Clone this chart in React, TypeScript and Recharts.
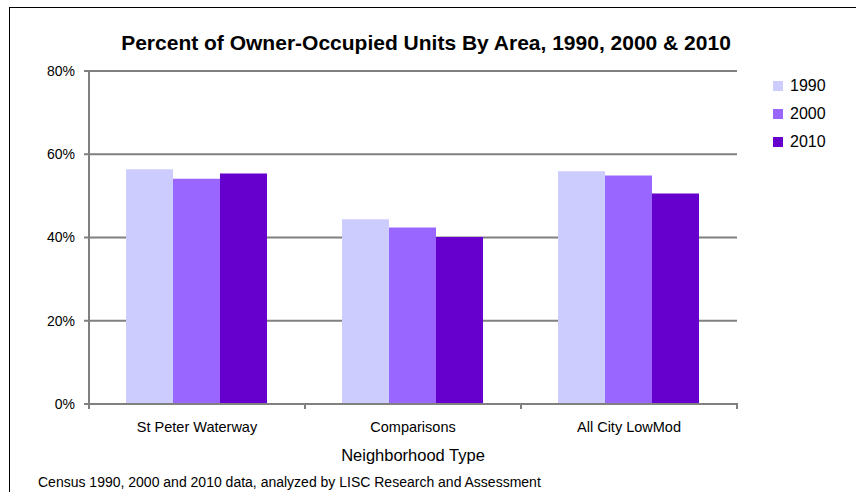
import React from "react";
import { Bar, BarChart, CartesianGrid, XAxis, YAxis } from "recharts";

const categories = ["St Peter Waterway", "Comparisons", "All City LowMod"];
const years = ["1990", "2000", "2010"];
const v1990 = [56.4, 44.4, 55.9];
const v2000 = [54.1, 42.4, 54.9];
const v2010 = [55.4, 40.1, 50.6];
const yTicks = [0, 20, 40, 60, 80];

const COLORS = ["#ccccff", "#9966ff", "#6600cc"];
const GRID = "#808080";
const FONT = "'Liberation Sans', Arial, sans-serif";

const data = categories.map((name, i) => ({
  name,
  "1990": v1990[i],
  "2000": v2000[i],
  "2010": v2010[i],
}));

function CategoryTick(props: any) {
  const { x, y, payload, index, visibleTicksCount } = props;
  const half = payload?.offset ?? 108;
  const y0 = y - 19;
  const last = index === visibleTicksCount - 1;
  return (
    <g>
      <line x1={x - half} x2={x - half} y1={y0} y2={y0 + 6} stroke={GRID} strokeWidth={2} />
      {last ? (
        <line x1={x + half} x2={x + half} y1={y0} y2={y0 + 6} stroke={GRID} strokeWidth={2} />
      ) : null}
      <text x={x} y={y} dy="0.71em" textAnchor="middle" fontSize={14.5} fill="#000" fontFamily={FONT}>
        {payload.value}
      </text>
    </g>
  );
}

export default function App() {
  return (
    <div style={{ position: "absolute", left: 0, top: 0, width: 856, height: 492, background: "#fff", fontFamily: FONT }}>
      <div style={{ position: "absolute", left: 9, top: 7, width: 847, height: 485, borderLeft: "1px solid #000", borderTop: "1px solid #000" }} />
      <div style={{ position: "absolute", left: 0, width: 852, top: 31, textAlign: "center", fontWeight: "bold", fontSize: 21, color: "#000" }}>
        Percent of Owner-Occupied Units By Area, 1990, 2000 &amp; 2010
      </div>
      <BarChart
        width={856}
        height={492}
        data={data}
        margin={{ top: 71, right: 119, left: 29, bottom: 28 }}
        barCategoryGap={37}
        barGap={0}
      >
        <CartesianGrid vertical={false} stroke={GRID} strokeWidth={2} />
        <XAxis
          dataKey="name"
          height={60}
          axisLine={{ stroke: GRID, strokeWidth: 2 }}
          tickLine={false}
          tickSize={6}
          tickMargin={12}
          tick={<CategoryTick />}
          interval={0}
          label={{ value: "Neighborhood  Type", position: "insideBottom", offset: 3, fontSize: 16.5, fill: "#000", fontFamily: FONT }}
        />
        <YAxis
          width={60}
          domain={[0, 80]}
          ticks={yTicks}
          tickFormatter={(v) => `${v}%`}
          axisLine={{ stroke: GRID, strokeWidth: 2 }}
          tickLine={{ stroke: GRID, strokeWidth: 2 }}
          tickSize={5}
          tickMargin={9}
          tick={{ fontSize: 14, fill: "#000", fontFamily: FONT }}
        />
        <YAxis
          yAxisId="r"
          orientation="right"
          width={0}
          domain={[0, 80]}
          ticks={yTicks}
          tick={false}
          tickLine={false}
          axisLine={{ stroke: GRID, strokeWidth: 2 }}
        />
        {years.map((yr, i) => (
          <Bar key={yr} dataKey={yr} fill={COLORS[i]} isAnimationActive={false} />
        ))}
      </BarChart>
      <div style={{ position: "absolute", left: 773, top: 72 }}>
        {years.map((yr, i) => (
          <div key={yr} style={{ display: "flex", alignItems: "center", height: 28, fontSize: 16, color: "#000" }}>
            <span style={{ display: "inline-block", width: 10, height: 10, background: COLORS[i], marginRight: 7 }} />
            {yr}
          </div>
        ))}
      </div>
      <div style={{ position: "absolute", left: 38, top: 474, fontSize: 14, color: "#000", whiteSpace: "nowrap" }}>
        Census 1990, 2000 and 2010 data, analyzed by LISC Research and Assessment
      </div>
    </div>
  );
}
